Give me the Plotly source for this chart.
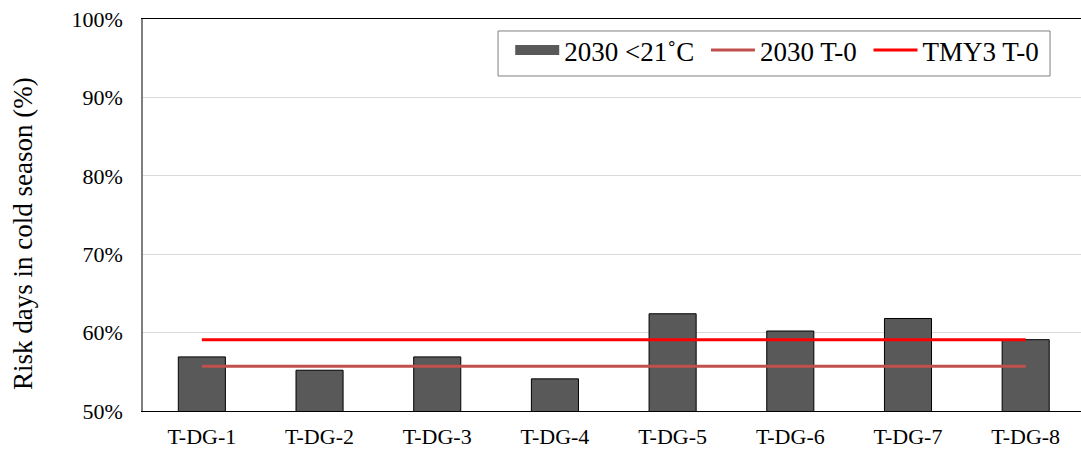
import plotly.graph_objects as go

categories = ["T-DG-1", "T-DG-2", "T-DG-3", "T-DG-4", "T-DG-5", "T-DG-6", "T-DG-7", "T-DG-8"]
risk_2030_below21 = [56.9, 55.2, 56.9, 54.1, 62.4, 60.2, 61.8, 59.1]
baseline_2030_t0 = [55.7] * len(categories)
baseline_tmy3_t0 = [59.1] * len(categories)

serif = "Liberation Serif, Times New Roman, serif"
bar_color = "#595959"
pad = "\u00a0"

fig = go.Figure()
fig.add_trace(go.Bar(
    x=categories, y=risk_2030_below21, name="2030 <21˚C", showlegend=False,
    marker=dict(color=bar_color, line=dict(color="#000000", width=1)),
    width=0.4,
))
# wide swatch for the bar series legend entry
fig.add_trace(go.Scatter(
    x=[None], y=[None], name="2030 <21˚C" + pad, mode="lines",
    line=dict(color=bar_color, width=14),
))
fig.add_trace(go.Scatter(
    x=categories, y=baseline_2030_t0, name="2030 T-0" + pad, mode="lines",
    line=dict(color="#c0504d", width=3),
))
fig.add_trace(go.Scatter(
    x=categories, y=baseline_tmy3_t0, name="TMY3 T-0", mode="lines",
    line=dict(color="#ff0000", width=3),
))

fig.update_layout(
    width=1081, height=450,
    margin=dict(l=143, r=0, t=19, b=39),
    paper_bgcolor="white", plot_bgcolor="white",
    font=dict(family=serif, size=21, color="#000000"),
    legend=dict(
        orientation="h", x=0.3915, xanchor="left", y=0.982, yanchor="top",
        borderwidth=0, bgcolor="rgba(0,0,0,0)",
        font=dict(family=serif, size=27), traceorder="normal",
        itemwidth=44,
    ),
    shapes=[dict(
        type="rect", xref="paper", yref="paper",
        x0=0.3785, x1=0.967, y0=0.8546, y1=0.9694,
        line=dict(color="#7f7f7f", width=1), fillcolor="white", layer="above",
    )],
    xaxis=dict(
        range=[-0.5, 7.47], showline=True, linecolor="#000000", linewidth=1,
        mirror=True, showgrid=False, ticks="", tickfont=dict(size=22),
        ticklabelstandoff=6,
    ),
    yaxis=dict(
        range=[50, 100], dtick=10, ticksuffix="%",
        showline=True, linecolor="#7f7f7f", linewidth=1.5,
        showgrid=True, gridcolor="#d9d9d9", gridwidth=1,
        ticks="", tickfont=dict(size=22), ticklabelstandoff=14,
        zeroline=False,
    ),
    annotations=[dict(
        text="Risk days in cold season (%)", textangle=-90,
        xref="paper", yref="paper", x=-0.128, y=0.454,
        xanchor="center", yanchor="middle", showarrow=False,
        font=dict(family=serif, size=27),
    )],
)

fig.write_html("out.html")
